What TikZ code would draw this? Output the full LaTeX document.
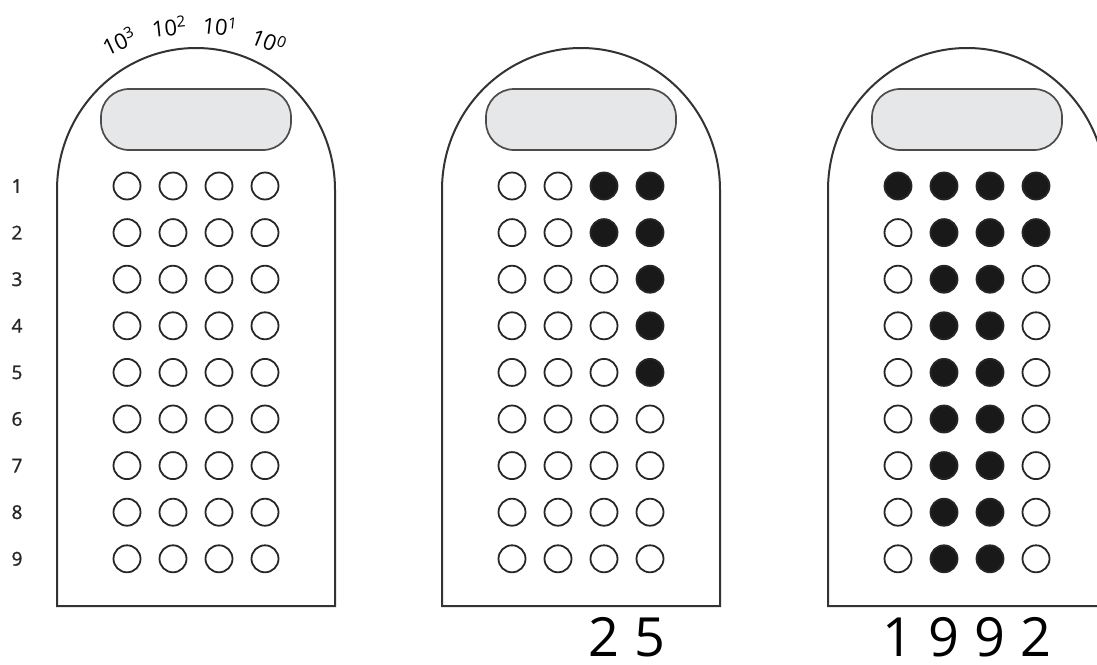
\documentclass[tikz,border=0pt]{standalone}
\usepackage{fontspec}
\setmainfont{Open Sans}
\newfontfamily\lblfont{Open Sans}[FakeBold=1.2]
\usepackage{tikz}
\usetikzlibrary{positioning,calc}
\definecolor{screengray}{HTML}{E6E7E8}

\begin{document}
\begin{tikzpicture}[x=1pt, y=-1pt,
    body/.style={draw=black!80, line width=2pt},
    screen/.style={draw=black!70, line width=1.7pt, fill=screengray, rounded corners=28pt, minimum width=190pt, minimum height=61pt},
    bead/.style={circle, draw=black!85, line width=1.8pt, minimum size=27pt, inner sep=0pt},
    fullbead/.style={bead, fill=black!90},
    rowlbl/.style={font=\lblfont\fontsize{19}{20}\selectfont, text=black!85},
    powlbl/.style={font=\fontsize{22}{23}\selectfont, inner sep=0pt},
    bigdigit/.style={font=\fontsize{54}{56}\selectfont, inner sep=0pt, anchor=base, text depth=0pt}]
    \clip (0,0) rectangle (1097,664);
    % abacus bodies
    \foreach \cx in {196,581,967} {
        \draw[body] (\cx-139,606) -- (\cx-139,190) arc[start angle=180, end angle=0, x radius=139pt, y radius=142pt] -- (\cx+139,606) -- cycle;
    }
    \node[screen] (scr1) at (196,119.5) {};
    \node[screen] (scr2) at (581,119.5) {};
    \node[screen] (scr3) at (967,119.5) {};
    % powers of ten
    \node[powlbl, rotate=25] (p3) at (119,41) {10\textsuperscript{3}};
    \node[powlbl, rotate=6] (p2) at (169,27) {10\textsuperscript{2}};
    \node[powlbl, rotate=-6] (p1) at (220,26) {10\textsuperscript{1}};
    \node[powlbl, rotate=-22] (p0) at (269,41) {10\textsuperscript{0}};
    % row numbers
    \foreach \r in {1,...,9}
        \node[rowlbl] (n\r) at (17,{186+(\r-1)*46.6}) {\r};
    % beads
    \foreach \dev/\cx/\digs in {1/196/{0,0,0,0}, 2/581/{0,0,2,5}, 3/967/{1,9,9,2}} {
        \foreach \d [count=\c] in \digs {
            \foreach \r in {1,...,9} {
                \ifnum\r>\d \def\bsty{bead}\else\def\bsty{fullbead}\fi
                \node[\bsty] (d\dev-\r-\c) at ({\cx+(\c-2.5)*46},{186+(\r-1)*46.6}) {};
            }
        }
    }
    % values
    \foreach \dev/\c/\v in {2/3/2, 2/4/5, 3/1/1, 3/2/9, 3/3/9, 3/4/2}
        \node[bigdigit] (v\dev-\c) at ($(d\dev-9-\c)+(0,98)$) {\v};
\end{tikzpicture}
\end{document}
